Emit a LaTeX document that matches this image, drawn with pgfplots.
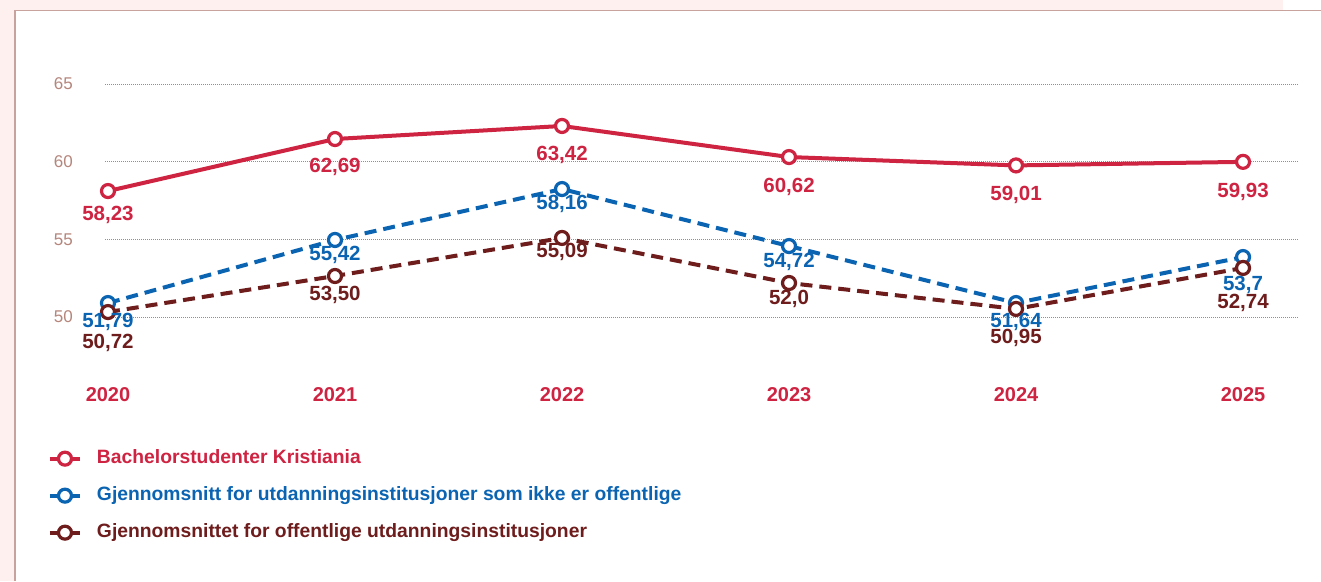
\documentclass[border=0pt]{standalone}
\usepackage{pgfplots}
\pgfplotsset{compat=1.18}
\usepackage{fontspec}
\setmainfont{Liberation Sans}
\definecolor{kred}{HTML}{CF2342}
\definecolor{kblue}{HTML}{0A64B2}
\definecolor{kdark}{HTML}{6E1C1C}
\definecolor{tickc}{HTML}{B5867C}
\definecolor{gridc}{HTML}{C47B6E}
\definecolor{bordc}{HTML}{C8A29C}
\definecolor{bgc}{HTML}{FDF0EE}
\begin{document}
\begin{tikzpicture}
\path[use as bounding box] (0,0) rectangle (1321pt,-581pt);
\fill[bgc] (0,0) rectangle (1283pt,-11pt);
\fill[bgc] (0,0) rectangle (15pt,-581pt);
\fill[white] (15pt,-11pt) rectangle (1321pt,-581pt);
\draw[bordc, line width=1.5pt] (15pt,-581pt) -- (15pt,-10.7pt) -- (1321pt,-10.7pt);
\begin{axis}[
  at={(105pt,-363.6pt)}, anchor=south west,
  width=1192pt, height=295.1pt, scale only axis,
  xmin=-0.0132, xmax=5.2379, ymin=47, ymax=66,
  clip=false,
  axis line style={draw=none},
  major tick length=0pt,
  ytick={50,55,60,65},
  ymajorgrids,
  grid style={gridc, line width=0.9pt, dash pattern=on 1pt off 1pt},
  xtick={0,1,2,3,4,5},
  xticklabels={2020,2021,2022,2023,2024,2025},
  xticklabel style={font=\fontsize{20}{20}\selectfont\bfseries, text=kred, anchor=center, inner sep=0pt, yshift=-31.4pt},
  yticklabel style={font=\fontsize{17}{17}\selectfont, text=tickc, anchor=east, inner sep=0pt, xshift=-32pt},
  /pgf/number format/assume math mode=true,
  legend style={at={(axis description cs:-0.0505,-0.285)}, anchor=north west, draw=none, fill=none,
     font=\fontsize{19.3}{19.3}\selectfont\bfseries, row sep=19.5pt,
     nodes={inner sep=0pt, text height=13.5pt, text depth=4pt},
     /tikz/every odd column/.append style={column sep=15pt}},
  legend cell align=left,
  legend image code/.code={\draw[mark repeat=2,mark phase=2,#1] plot coordinates {(0pt,0pt) (15pt,0pt) (30pt,0pt)};},
  every node near coord/.append style={anchor=center, inner sep=0pt, font=\fontsize{20.5}{20.5}\selectfont\bfseries},
]
\addplot[kred, line width=4pt, mark=*, mark size=6.5pt, mark options={solid, fill=white, line width=3.2pt}]
  coordinates {(0,58.11)(1,61.46)(2,62.30)(3,60.30)(4,59.76)(5,59.99)};
\addlegendentry{\textcolor{kred}{Bachelorstudenter Kristiania}}
\addplot[kblue, line width=4pt, dash pattern=on 12pt off 7pt, mark=*, mark size=6.5pt, mark options={solid, fill=white, line width=3.2pt}]
  coordinates {(0,50.90)(1,54.96)(2,58.24)(3,54.57)(4,50.90)(5,53.86)};
\addlegendentry{\textcolor{kblue}{Gjennomsnitt for utdanningsinstitusjoner som ikke er offentlige}}
\addplot[kdark, line width=4pt, dash pattern=on 12pt off 7pt, mark=*, mark size=6.5pt, mark options={solid, fill=white, line width=3.2pt}]
  coordinates {(0,50.32)(1,52.64)(2,55.09)(3,52.19)(4,50.52)(5,53.16)};
\addlegendentry{\textcolor{kdark}{Gjennomsnittet for offentlige utdanningsinstitusjoner}}
% value labels
\addplot[forget plot, draw=none, mark=none, nodes near coords, point meta=explicit symbolic,
  every node near coord/.append style={text=kred}]
  coordinates {(0,56.60)[58{,}23] (1,59.68)[62{,}69] (2,60.43)[63{,}42] (3,58.40)[60{,}62] (4,57.86)[59{,}01] (5,58.07)[59{,}93]};
\addplot[forget plot, draw=none, mark=none, nodes near coords, point meta=explicit symbolic,
  every node near coord/.append style={text=kblue}]
  coordinates {(0,49.68)[51{,}79] (1,53.99)[55{,}42] (2,57.28)[58{,}16] (3,53.54)[54{,}72] (4,49.68)[51{,}64] (5,52.06)[53{,}7]};
\addplot[forget plot, draw=none, mark=none, nodes near coords, point meta=explicit symbolic,
  every node near coord/.append style={text=kdark}]
  coordinates {(0,48.33)[50{,}72] (1,51.42)[53{,}50] (2,54.19)[55{,}09] (3,51.16)[52{,}0] (4,48.65)[50{,}95] (5,50.90)[52{,}74]};
\end{axis}
\end{tikzpicture}
\end{document}
